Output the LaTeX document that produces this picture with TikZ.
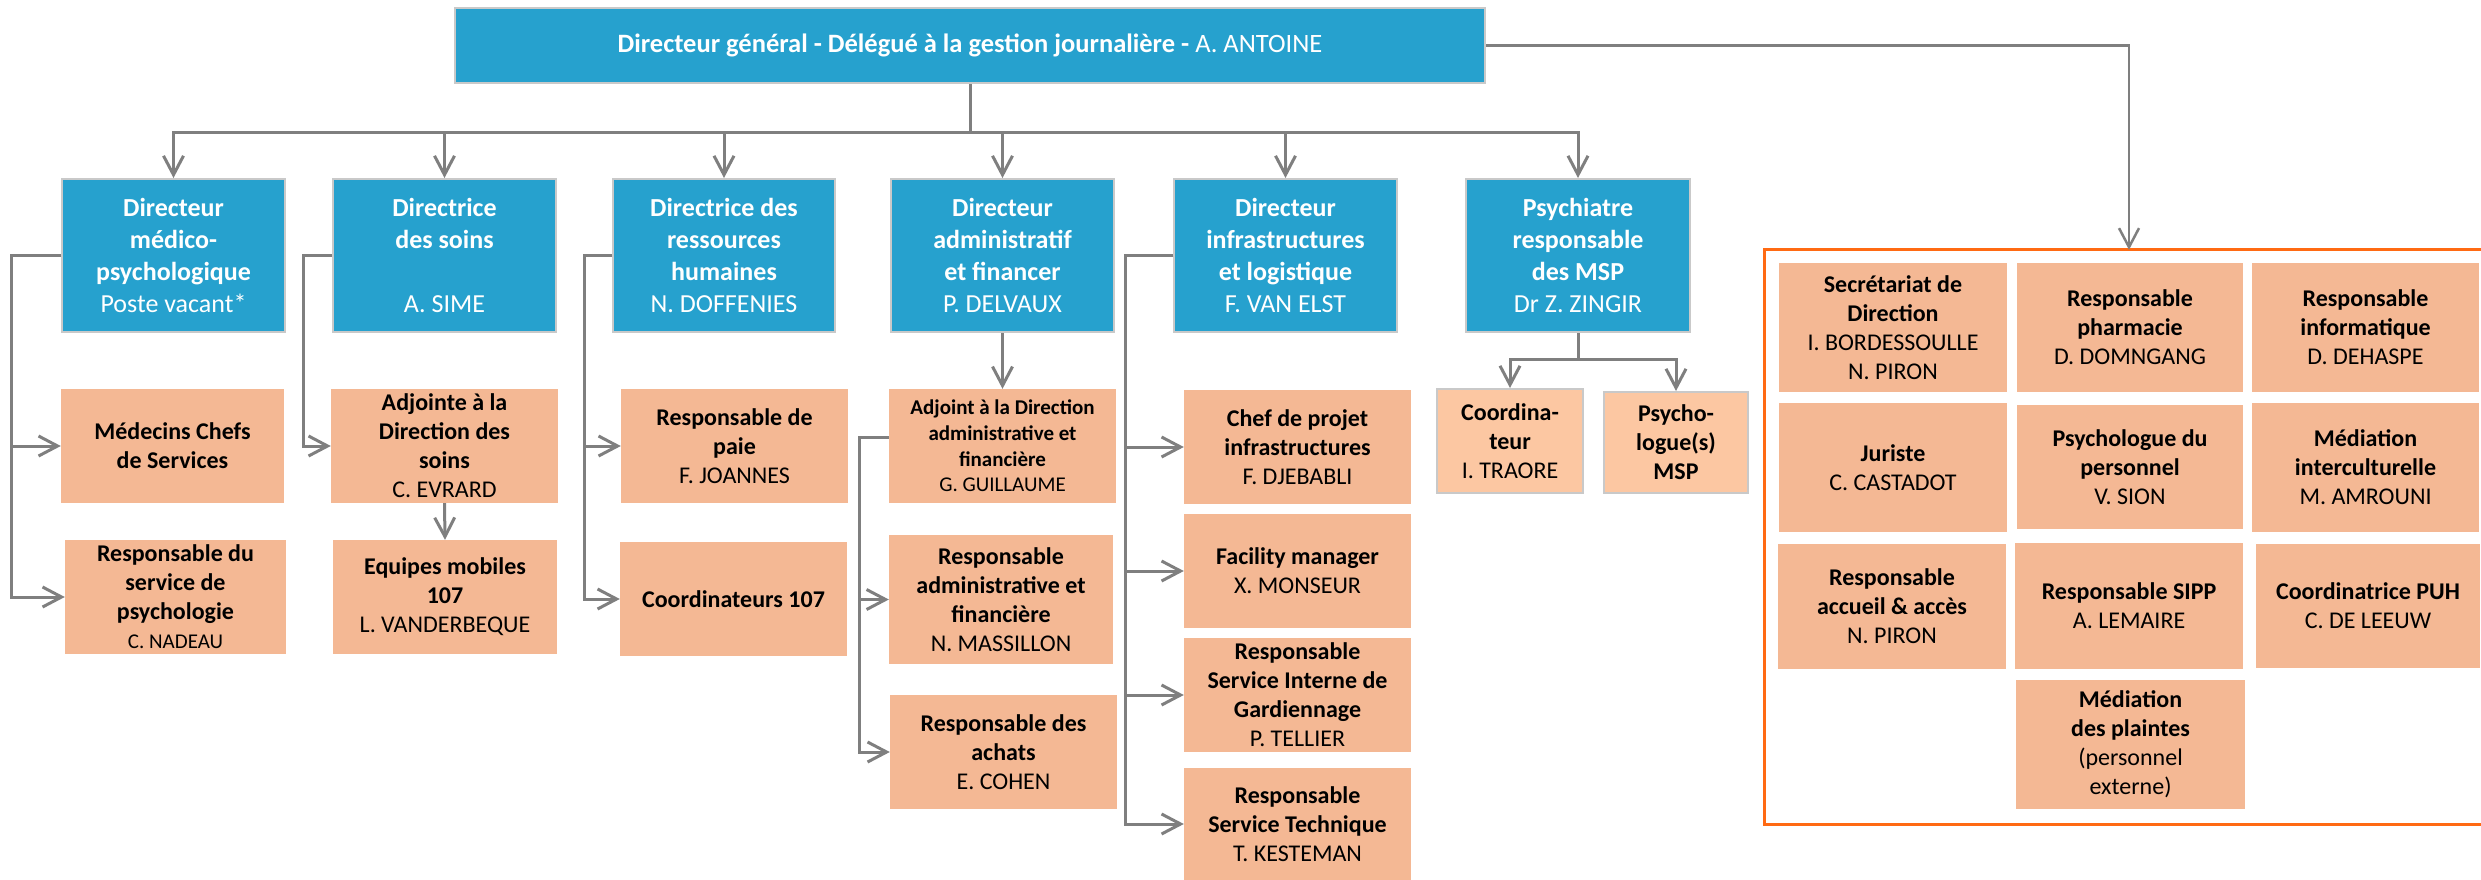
\documentclass[tikz,border=0pt]{standalone}
\usepackage{fontspec}
\setmainfont{Carlito}
\usetikzlibrary{arrows.meta}
\definecolor{blueC}{HTML}{26A1CE}
\definecolor{peachC}{HTML}{F4B894}
\definecolor{peachL}{HTML}{FCC7A2}
\definecolor{grayC}{HTML}{7F7F7F}
\definecolor{borderC}{HTML}{C9C9C9}
\definecolor{orangeC}{HTML}{FF6A13}
\begin{document}
\begin{tikzpicture}[x=1pt,y=-1pt,
  box/.style={rectangle, inner sep=0pt, align=center, anchor=center},
  bluebox/.style={box, fill=blueC, draw=borderC, line width=2pt, text=white, font=\fontsize{26}{32}\selectfont},
  peach/.style={box, fill=peachC, draw=none, text=black, font=\fontsize{24}{29}\selectfont},
  peachlt/.style={box, fill=peachL, draw=borderC, line width=2pt, text=black, font=\fontsize{24}{29}\selectfont},
  conn/.style={draw=grayC, line width=3pt},
  arr/.style={conn, -{Straight Barb[length=19pt,width=20pt]}},
  framestyle/.style={draw=orangeC, line width=3pt},
]
\useasboundingbox (0,0) rectangle (2481,879);

% frame
\node[box, minimum width=716pt, minimum height=574pt] (frame) at (2123,537) {};
\draw[framestyle] (frame.north east) -- (frame.north west) -- (frame.south west) -- (frame.south east);

% top
\node[bluebox, minimum width=1030pt, minimum height=75pt, font=\fontsize{26.5}{31}\selectfont] (top) at (970,45.5)
  {\textbf{Directeur général - Délégué à la gestion journalière - }A. ANTOINE};

% level 2
\node[bluebox, minimum width=223pt, minimum height=153pt] (b1) at (173.5,255.5)
  {\textbf{Directeur}\\\textbf{médico-}\\\textbf{psychologique}\\Poste vacant*};
\node[bluebox, minimum width=223pt, minimum height=153pt] (b2) at (444.5,255.5)
  {\textbf{Directrice}\\\textbf{des soins}\\\strut\\A. SIME};
\node[bluebox, minimum width=222pt, minimum height=153pt] (b3) at (724,255.5)
  {\textbf{Directrice des}\\\textbf{ressources}\\\textbf{humaines}\\N. DOFFENIES};
\node[bluebox, minimum width=223pt, minimum height=153pt] (b4) at (1002.5,255.5)
  {\textbf{Directeur}\\\textbf{administratif}\\\textbf{et financer}\\P. DELVAUX};
\node[bluebox, minimum width=223pt, minimum height=153pt] (b5) at (1285.5,255.5)
  {\textbf{Directeur}\\\textbf{infrastructures}\\\textbf{et logistique}\\F. VAN ELST};
\node[bluebox, minimum width=224pt, minimum height=153pt] (b6) at (1578,255.5)
  {\textbf{Psychiatre}\\\textbf{responsable}\\\textbf{des MSP}\\Dr Z. ZINGIR};

% level 3
\node[peach, minimum width=223pt, minimum height=114pt] (med) at (172.5,446)
  {\textbf{Médecins Chefs}\\\textbf{de Services}};
\node[peach, minimum width=221pt, minimum height=114pt] (rpsy) at (175.5,597)
  {\textbf{Responsable du}\\\textbf{service de}\\\textbf{psychologie}\\{\fontsize{21}{25}\selectfont C. NADEAU}};
\node[peach, minimum width=227pt, minimum height=114pt] (adjs) at (444.5,446)
  {\textbf{Adjointe à la}\\\textbf{Direction des}\\\textbf{soins}\\C. EVRARD};
\node[peach, minimum width=224pt, minimum height=114pt] (equ) at (445,597)
  {\textbf{Equipes mobiles}\\\textbf{107}\\L. VANDERBEQUE};
\node[peach, minimum width=227pt, minimum height=114pt] (paie) at (734.5,446)
  {\textbf{Responsable de}\\\textbf{paie}\\F. JOANNES};
\node[peach, minimum width=227pt, minimum height=114pt] (coo) at (733.5,599)
  {\textbf{Coordinateurs 107}};
\node[peach, minimum width=227pt, minimum height=114pt, font=\fontsize{21}{25.7}\selectfont] (adja) at (1002.5,446)
  {\textbf{Adjoint à la Direction}\\\textbf{administrative et}\\\textbf{financière}\\G. GUILLAUME};
\node[peach, minimum width=224pt, minimum height=129pt] (raf) at (1001,599.5)
  {\textbf{Responsable}\\\textbf{administrative et}\\\textbf{financière}\\N. MASSILLON};
\node[peach, minimum width=227pt, minimum height=114pt] (ach) at (1003.5,752)
  {\textbf{Responsable des}\\\textbf{achats}\\E. COHEN};
\node[peach, minimum width=227pt, minimum height=114pt] (chef) at (1297.5,447)
  {\textbf{Chef de projet}\\\textbf{infrastructures}\\F. DJEBABLI};
\node[peach, minimum width=227pt, minimum height=114pt] (fac) at (1297.5,571)
  {\textbf{Facility manager}\\X. MONSEUR};
\node[peach, minimum width=227pt, minimum height=114pt] (sig) at (1297.5,695)
  {\textbf{Responsable}\\\textbf{Service Interne de}\\\textbf{Gardiennage}\\P. TELLIER};
\node[peach, minimum width=227pt, minimum height=112pt] (stech) at (1297.5,824)
  {\textbf{Responsable}\\\textbf{Service Technique}\\T. KESTEMAN};
\node[peachlt, minimum width=146pt, minimum height=104pt] (coord) at (1510,441)
  {\textbf{Coordina-}\\\textbf{teur}\\I. TRAORE};
\node[peachlt, minimum width=144pt, minimum height=101pt] (psyms) at (1676,442.5)
  {\textbf{Psycho-}\\\textbf{logue(s)}\\\textbf{MSP}};

% frame boxes
\node[peach, minimum width=228pt, minimum height=129pt] (sec) at (1893,327.5)
  {\textbf{Secrétariat de}\\\textbf{Direction}\\I. BORDESSOULLE\\N. PIRON};
\node[peach, minimum width=226pt, minimum height=129pt] (pha) at (2130,327.5)
  {\textbf{Responsable}\\\textbf{pharmacie}\\D. DOMNGANG};
\node[peach, minimum width=227pt, minimum height=129pt] (inf) at (2365.5,327.5)
  {\textbf{Responsable}\\\textbf{informatique}\\D. DEHASPE};
\node[peach, minimum width=228pt, minimum height=129pt] (jur) at (1893,467.5)
  {\textbf{Juriste}\\C. CASTADOT};
\node[peach, minimum width=226pt, minimum height=124pt] (pdp) at (2130,467)
  {\textbf{Psychologue du}\\\textbf{personnel}\\V. SION};
\node[peach, minimum width=227pt, minimum height=129pt] (medi) at (2365.5,467.5)
  {\textbf{Médiation}\\\textbf{interculturelle}\\M. AMROUNI};
\node[peach, minimum width=228pt, minimum height=125pt] (acc) at (1892,606.5)
  {\textbf{Responsable}\\\textbf{accueil \& accès}\\N. PIRON};
\node[peach, minimum width=228pt, minimum height=126pt] (sipp) at (2129,606)
  {\textbf{Responsable SIPP}\\A. LEMAIRE};
\node[peach, minimum width=224pt, minimum height=124pt] (puh) at (2368,606)
  {\textbf{Coordinatrice PUH}\\C. DE LEEUW};
\node[peach, minimum width=229pt, minimum height=129pt] (pla) at (2130.5,744.5)
  {\textbf{Médiation}\\\textbf{des plaintes}\\(personnel\\externe)};

% helper coordinates
\coordinate (busy) at (0,132);
\coordinate (psyy) at (0,359);
\coordinate (l1) at (11,0);
\coordinate (l2) at (303,0);
\coordinate (l3) at (584,0);
\coordinate (l4) at (859,0);
\coordinate (l5) at (1125,0);
\coordinate (adjaw) at ([yshift=9pt]adja.west);

% top -> level 2
\foreach \b in {b1,b2,b3,b4,b5,b6}
  \draw[arr] (top.south) -- (top.south |- busy) -| (\b.north);

% top -> frame
\draw[arr, line width=2.5pt] (top.east) -| ([xshift=6pt]frame.north);

% side connectors
\draw[arr] (b1.west) -- (b1.west -| l1) |- (med.west);
\draw[arr] (b1.west) -- (b1.west -| l1) |- (rpsy.west);
\draw[arr] (b2.west) -- (b2.west -| l2) |- (adjs.west);
\draw[arr] (adjs.south) -- (equ.north);
\draw[arr] (b3.west) -- (b3.west -| l3) |- (paie.west);
\draw[arr] (b3.west) -- (b3.west -| l3) |- (coo.west);
\draw[arr] (b4.south) -- (adja.north);
\draw[arr] (adjaw) -- (adjaw -| l4) |- (raf.west);
\draw[arr] (adjaw) -- (adjaw -| l4) |- (ach.west);
\foreach \t in {chef,fac,sig,stech}
  \draw[arr] (b5.west) -- (b5.west -| l5) |- (\t.west);
\draw[arr] (b6.south) -- (b6.south |- psyy) -| (coord.north);
\draw[arr] (b6.south) -- (b6.south |- psyy) -| (psyms.north);
\end{tikzpicture}
\end{document}
